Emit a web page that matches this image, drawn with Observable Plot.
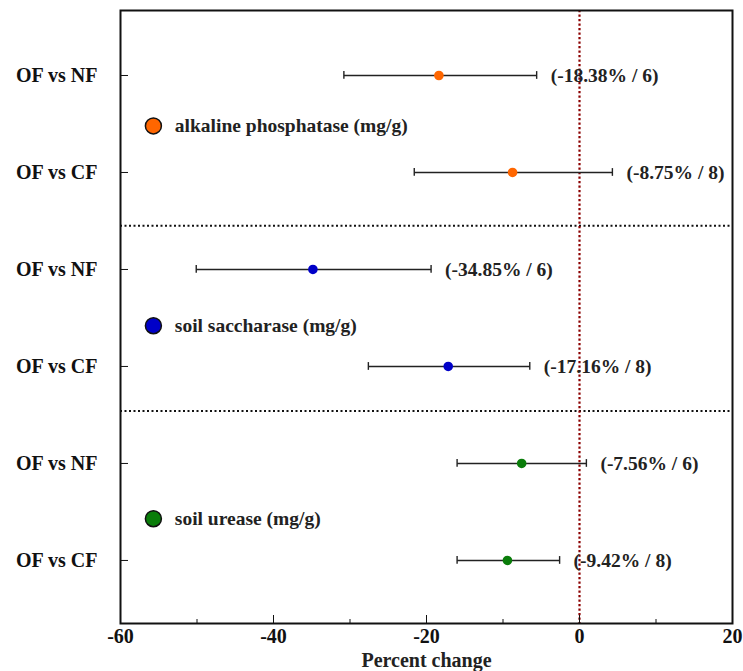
<!DOCTYPE html>
<html><head><meta charset="utf-8">
<script src="https://cdn.jsdelivr.net/npm/d3@7"></script>
<script src="https://cdn.jsdelivr.net/npm/@observablehq/plot@0.6"></script>
<style>
body{margin:0;background:#fff;}
svg{font-family:"Liberation Serif","Times New Roman",serif;}
</style></head><body><div id="chart"></div>
<script>
const comparisons = ["OF vs NF","OF vs CF","OF vs NF","OF vs CF","OF vs NF","OF vs CF"];
const enzymes = ["alkaline phosphatase","alkaline phosphatase","soil saccharase","soil saccharase","soil urease","soil urease"];
const rowPos = [1,2,3,4,5,6];
const effects = [-18.38,-8.75,-34.85,-17.16,-7.56,-9.42];
const ciLow = [-30.8,-21.6,-50.1,-27.6,-16.0,-16.0];
const ciHigh = [-5.6,4.3,-19.4,-6.5,0.9,-2.6];
const nStudies = [6,8,6,8,6,8];
const legendNames = ["alkaline phosphatase (mg/g)","soil saccharase (mg/g)","soil urease (mg/g)"];
const legendPos = [1.52,3.58,5.57];
const legendColors = ["#FF6600","#0000C8","#0A7D0A"];
const separators = [2.55,4.46];
const colorOf = {"alkaline phosphatase":"#FF6600","soil saccharase":"#0000C8","soil urease":"#0A7D0A"};

const rows = rowPos.map((r,i)=>({row:r, comp:comparisons[i], enzyme:enzymes[i], eff:effects[i], lo:ciLow[i], hi:ciHigh[i], n:nStudies[i],
  label:`(${effects[i].toFixed(2)}% / ${nStudies[i]})`}));
const legend = legendNames.map((name,i)=>({name, y:legendPos[i], color:legendColors[i]}));
const capH = 0.04;

const plot = Plot.plot({
  width: 743, height: 671,
  marginLeft: 120, marginRight: 11, marginTop: 10, marginBottom: 48,
  style: {fontFamily: '"Liberation Serif","Times New Roman",serif', fontSize: "20px", fontWeight: "bold", color: "#111"},
  x: {domain: [-60, 20]},
  y: {domain: [6.65, 0.33]},
  marks: [
    Plot.ruleY(separators, {stroke: "#111", strokeWidth: 2, strokeDasharray: "2,2.5"}),
    Plot.ruleX([0], {stroke: "#8B0000", strokeWidth: 2.2, strokeDasharray: "2.2,2.3"}),
    Plot.link(rows, {x1: "lo", x2: "hi", y1: "row", y2: "row", stroke: "#222", strokeWidth: 1.4}),
    Plot.ruleX(rows, {x: "lo", y1: d => d.row - capH, y2: d => d.row + capH, stroke: "#222", strokeWidth: 1.4}),
    Plot.ruleX(rows, {x: "hi", y1: d => d.row - capH, y2: d => d.row + capH, stroke: "#222", strokeWidth: 1.4}),
    Plot.dot(rows, {x: "eff", y: "row", r: 4.8, fill: d => colorOf[d.enzyme], stroke: "none"}),
    Plot.text(rows, {x: "hi", y: "row", text: "label", dx: 14, textAnchor: "start", fontSize: 19.5, fontWeight: "bold", fill: "#222"}),
    Plot.dot(legend, {x: -55.7, y: "y", r: 8, fill: "color", stroke: "#111", strokeWidth: 1.5}),
    Plot.text(legend, {x: -52.9, y: "y", text: "name", textAnchor: "start", fontSize: 19.5, fontWeight: "bold", fill: "#222"}),
    Plot.axisX({ticks: [-60,-40,-20,0,20], tickSize: -8, tickPadding: 13, tickFormat: d => String(d), label: null, fontSize: 20}),
    Plot.axisX({ticks: [-50,-30,-10,10], tickSize: -4, tickFormat: () => "", label: null}),
    Plot.axisY({ticks: rowPos, tickSize: -8, tickPadding: 31, tickFormat: d => comparisons[d-1], label: null, fontSize: 20}),
    Plot.text(["Percent change"], {frameAnchor: "bottom", dy: 43, fontSize: 20, fontWeight: "bold", fill: "#222"}),
    Plot.frame({stroke: "#111", strokeWidth: 2})
  ]
});
document.getElementById("chart").appendChild(plot);
</script></body></html>
